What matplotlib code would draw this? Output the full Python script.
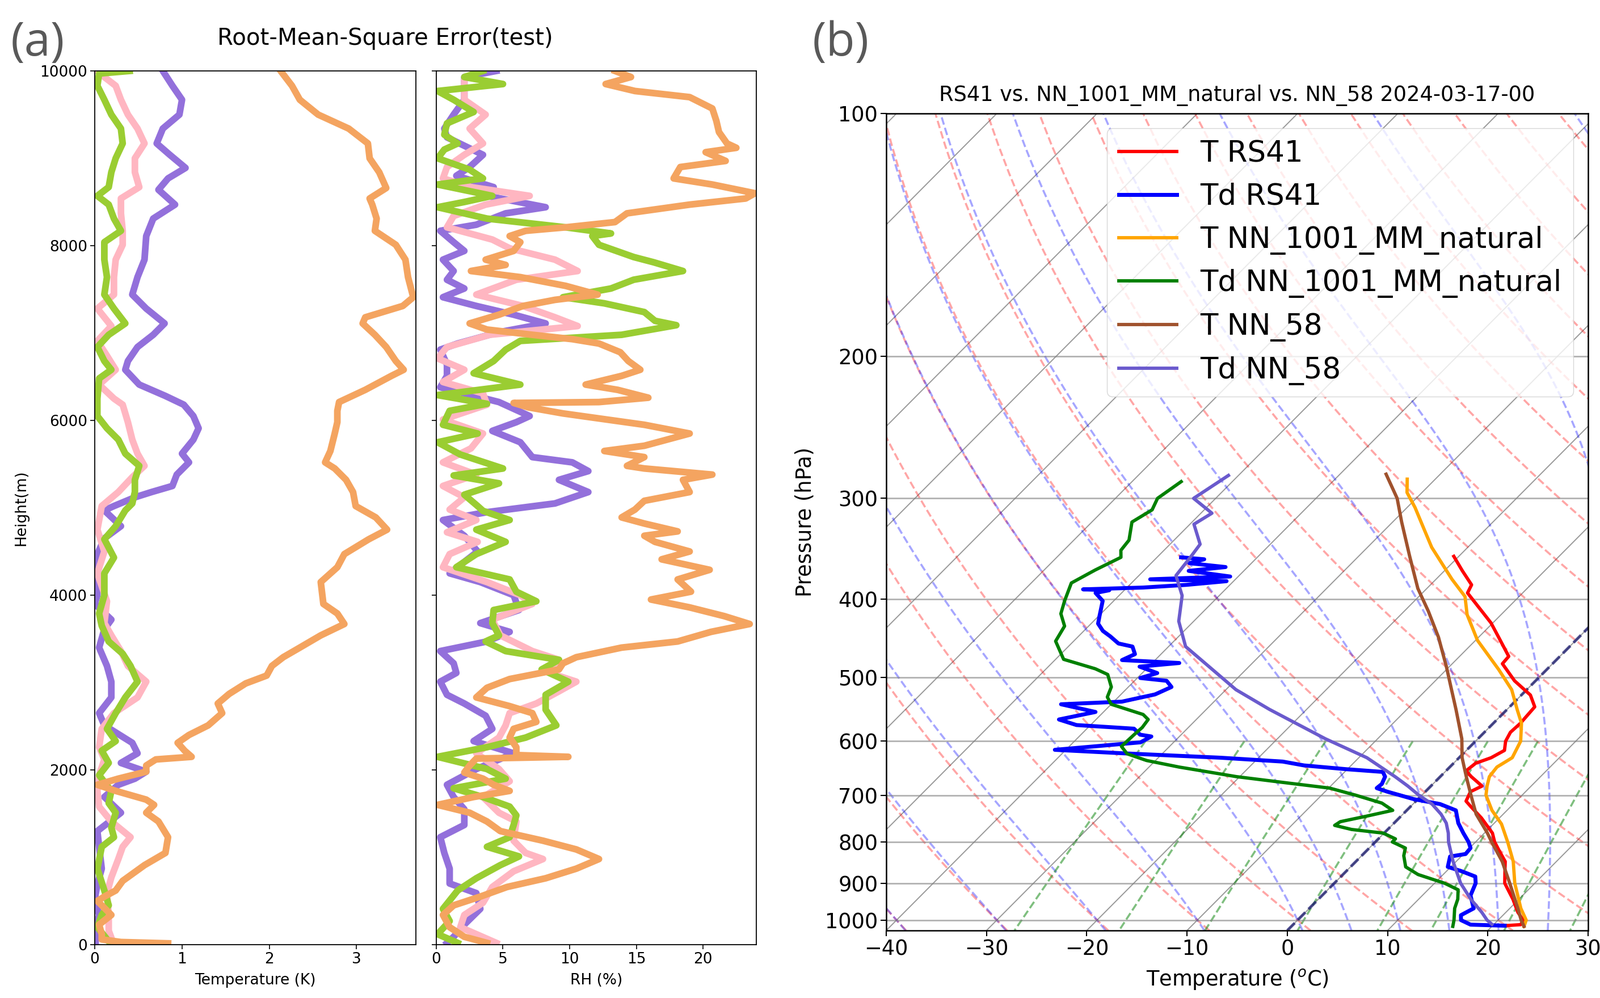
import numpy as np
import matplotlib
matplotlib.use('Agg')
import matplotlib.pyplot as plt
from matplotlib.ticker import FixedLocator, FixedFormatter, NullLocator

# ---------------- (a) RMSE profiles: height (m) / value ----------------
t_purple_h = [10000, 9830, 9670, 9500, 9340, 9170, 9040, 8890, 8770, 8640, 8470, 8310, 8110, 7840, 7640, 7440,
              7280, 7110, 6980, 6840, 6680, 6580, 6410, 6280, 6180, 6050, 5910, 5780, 5620, 5520, 5380, 5250,
              5180, 5120, 5020, 4970, 4790, 4650, 4470, 4250, 4000, 3900, 3720, 3610, 3400, 3190, 3010, 2830,
              2650, 2510, 2310, 2190, 2080, 1980, 1900, 1830, 1690, 1510, 1300, 1120, 870, 690, 520, 340, 160, 0]
t_purple = [0.78, 0.89, 1.00, 0.97, 0.78, 0.71, 0.86, 1.04, 0.84, 0.73, 0.92, 0.67, 0.59, 0.57, 0.49, 0.43,
            0.59, 0.80, 0.67, 0.49, 0.38, 0.35, 0.51, 0.81, 1.02, 1.13, 1.19, 1.13, 1.00, 1.08, 0.94, 0.89,
            0.65, 0.46, 0.22, 0.11, 0.30, 0.11, 0.03, 0.03, 0.03, 0.00, 0.19, 0.11, 0.05, 0.14, 0.19, 0.19,
            0.05, 0.11, 0.43, 0.49, 0.30, 0.59, 0.46, 0.27, 0.11, 0.30, 0.03, 0.05, 0.08, 0.03, 0.00, 0.05, 0.01, 0.01]

t_pink_h = [10000, 9930, 9830, 9670, 9500, 9340, 9170, 9000, 8840, 8670, 8540, 8370, 8170, 8010, 7840, 7640,
            7440, 7280, 7180, 7080, 6910, 6740, 6580, 6410, 6250, 6180, 5980, 5780, 5620, 5480, 5350, 5180,
            5020, 4750, 4500, 4250, 3930, 3680, 3540, 3360, 3190, 3010, 2830, 2650, 2470, 2260, 2120, 1940,
            1760, 1580, 1410, 1230, 1120, 980, 770, 590, 340, 160, 0]
t_pink = [0.03, 0.11, 0.24, 0.30, 0.38, 0.49, 0.57, 0.46, 0.46, 0.51, 0.30, 0.30, 0.32, 0.32, 0.24, 0.22,
          0.22, 0.03, 0.11, 0.19, 0.03, 0.14, 0.24, 0.05, 0.22, 0.32, 0.38, 0.43, 0.49, 0.57, 0.43, 0.27,
          0.08, 0.03, 0.11, 0.03, 0.14, 0.11, 0.19, 0.30, 0.38, 0.59, 0.49, 0.22, 0.08, 0.05, 0.11, 0.05,
          0.03, 0.05, 0.19, 0.41, 0.32, 0.27, 0.19, 0.14, 0.16, 0.16, 0.22]

t_green_h = [10000, 9970, 9830, 9670, 9500, 9340, 9170, 9000, 8840, 8670, 8570, 8470, 8310, 8170, 8040, 7840,
             7640, 7440, 7280, 7110, 6980, 6840, 6680, 6580, 6480, 6250, 6050, 5910, 5780, 5620, 5480, 5320,
             5180, 5050, 4970, 4790, 4640, 4430, 4250, 4000, 3790, 3650, 3470, 3330, 3190, 3010, 2830, 2650,
             2470, 2330, 2220, 2080, 1940, 1760, 1620, 1510, 1340, 1230, 1120, 870, 620, 450, 340, 200, 0]
t_green = [0.40, 0.05, 0.03, 0.11, 0.19, 0.30, 0.32, 0.24, 0.19, 0.16, 0.03, 0.16, 0.22, 0.30, 0.11, 0.11,
           0.14, 0.11, 0.22, 0.35, 0.16, 0.03, 0.11, 0.19, 0.05, 0.03, 0.03, 0.14, 0.27, 0.35, 0.51, 0.46,
           0.46, 0.43, 0.35, 0.24, 0.11, 0.22, 0.11, 0.11, 0.05, 0.08, 0.16, 0.32, 0.41, 0.49, 0.35, 0.24,
           0.14, 0.24, 0.08, 0.16, 0.05, 0.19, 0.16, 0.24, 0.19, 0.22, 0.08, 0.03, 0.11, 0.16, 0.08, 0.03, 0.19]

t_orange_h = [10000, 9830, 9670, 9500, 9340, 9170, 9000, 8840, 8660, 8540, 8470, 8310, 8170, 8010, 7840, 7640,
              7410, 7310, 7180, 7110, 6980, 6840, 6680, 6580, 6510, 6350, 6210, 6110, 5980, 5850, 5650, 5520,
              5450, 5320, 5180, 5020, 4890, 4750, 4640, 4470, 4320, 4150, 3900, 3790, 3670, 3540, 3400, 3290,
              3190, 3080, 2990, 2870, 2760, 2650, 2510, 2400, 2310, 2220, 2150, 2120, 2050, 1980, 1900, 1830,
              1760, 1660, 1600, 1510, 1410, 1230, 1050, 910, 730, 620, 550, 500, 340, 230, 120, 60, 30, 15]
t_orange = [2.13, 2.26, 2.35, 2.56, 2.91, 3.13, 3.15, 3.26, 3.34, 3.15, 3.18, 3.23, 3.21, 3.45, 3.56, 3.59,
            3.65, 3.53, 3.10, 3.07, 3.21, 3.34, 3.45, 3.54, 3.40, 3.10, 2.80, 2.78, 2.78, 2.75, 2.70, 2.64,
            2.75, 2.88, 2.96, 2.99, 3.22, 3.35, 3.14, 2.86, 2.78, 2.59, 2.62, 2.78, 2.86, 2.59, 2.35, 2.16,
            2.03, 1.97, 1.73, 1.54, 1.41, 1.46, 1.30, 1.08, 0.95, 1.03, 1.11, 0.70, 0.59, 0.59, 0.27, 0.03,
            0.24, 0.59, 0.68, 0.59, 0.73, 0.84, 0.81, 0.57, 0.32, 0.24, 0.11, 0.03, 0.19, 0.05, 0.08, 0.08, 0.30, 0.84]

rh_purple_h = [10000, 9930, 9670, 9500, 9340, 9240, 9040, 8900, 8800, 8670, 8570, 8440, 8370, 8240, 8170, 8040,
               7940, 7840, 7710, 7610, 7510, 7410, 7310, 7210, 7110, 7010, 6880, 6810, 6640, 6510, 6380, 6210,
               6050, 5980, 5880, 5750, 5580, 5520, 5420, 5320, 5180, 5050, 4950, 4860, 4680, 4500, 4250, 4150,
               4000, 3830, 3680, 3580, 3470, 3360, 3220, 3110, 3010, 2860, 2760, 2620, 2470, 2330, 2190, 2010,
               1830, 1690, 1550, 1370, 1230, 1050, 870, 700, 590, 410, 230, 90, 20]
rh_purple = [4.5, 2.1, 2.1, 1.3, 0.6, 0.8, 3.5, 2.5, 1.5, 4.3, 3.8, 8.2, 5.2, 3.0, 0.3, 1.3,
             2.1, 0.5, 1.3, 0.8, 2.1, 0.5, 3.0, 5.8, 8.2, 4.7, 1.6, 0.3, 0.8, 0.8, 0.3, 4.7,
             7.0, 6.0, 4.2, 6.3, 7.2, 10.2, 11.4, 9.2, 11.4, 8.9, 3.8, 0.5, 2.1, 3.1, 1.0, 3.3,
             5.8, 6.2, 3.3, 5.5, 3.8, 0.3, 1.3, 1.5, 0.3, 0.8, 2.1, 3.7, 4.2, 2.8, 5.8, 3.0,
             0.8, 1.3, 2.1, 2.1, 0.3, 0.6, 1.0, 1.0, 3.0, 3.3, 2.1, 1.3, 0.8]

rh_pink_h = [10000, 9900, 9670, 9500, 9340, 9170, 9040, 8900, 8770, 8670, 8570, 8470, 8340, 8210, 8070, 7970,
             7840, 7710, 7610, 7440, 7310, 7180, 7080, 6980, 6840, 6710, 6580, 6440, 6310, 6180, 6010, 5850,
             5680, 5520, 5380, 5250, 5120, 4980, 4860, 4720, 4610, 4470, 4320, 4150, 4000, 3900, 3720, 3540,
             3360, 3260, 3110, 3010, 2900, 2760, 2650, 2510, 2370, 2190, 2010, 1870, 1690, 1510, 1410, 1190,
             1050, 980, 840, 660, 480, 340, 200, 20]
rh_pink = [3.0, 2.1, 2.1, 3.7, 2.5, 3.5, 2.1, 0.8, 0.5, 2.6, 7.0, 3.7, 1.3, 0.8, 4.2, 5.5,
           8.9, 10.6, 6.0, 3.0, 6.5, 8.9, 10.6, 4.0, 0.8, 0.1, 2.1, 0.5, 3.5, 3.8, 0.5, 3.5,
           2.6, 0.5, 3.0, 0.5, 2.1, 1.0, 3.0, 0.8, 3.1, 1.0, 0.5, 3.8, 6.3, 7.2, 4.2, 4.8,
           7.2, 9.2, 8.5, 10.5, 9.2, 7.5, 5.5, 5.2, 4.7, 3.0, 4.7, 5.5, 3.5, 4.7, 6.0, 5.8,
           6.7, 8.0, 5.8, 4.2, 3.5, 2.1, 1.8, 4.5]

rh_green_h = [10000, 9930, 9850, 9770, 9670, 9530, 9400, 9270, 9170, 9100, 9000, 8870, 8770, 8700, 8570, 8500,
              8440, 8310, 8210, 8140, 8110, 8010, 7870, 7810, 7710, 7610, 7510, 7410, 7340, 7240, 7140, 7090,
              6980, 6910, 6810, 6680, 6540, 6410, 6290, 6190, 6110, 5950, 5850, 5750, 5610, 5450, 5370, 5280,
              5150, 5020, 4965, 4860, 4750, 4610, 4470, 4320, 4180, 4040, 3930, 3830, 3680, 3540, 3470, 3360,
              3260, 3150, 3010, 2860, 2690, 2510, 2370, 2260, 2150, 2010, 1900, 1790, 1690, 1580, 1480, 1370,
              1230, 1120, 1010, 910, 760, 620, 410, 270, 120, 20]
rh_green = [3.5, 2.1, 5.0, 0.1, 1.3, 2.8, 0.8, 0.6, 1.6, 0.6, 0.1, 2.5, 3.5, 0.1, 4.2, 2.1,
            0.1, 3.8, 9.7, 13.1, 11.7, 12.2, 14.8, 16.3, 18.5, 14.8, 13.1, 9.5, 12.6, 15.6, 16.4, 18.0,
            13.9, 6.3, 5.2, 4.3, 2.8, 6.3, 0.1, 3.8, 1.0, 0.5, 3.1, 0.1, 1.8, 5.0, 1.3, 4.7,
            2.1, 3.1, 3.5, 5.5, 3.0, 5.2, 3.0, 1.5, 5.5, 6.0, 7.5, 4.3, 4.2, 4.7, 3.7, 5.2,
            9.2, 7.9, 9.9, 8.2, 8.2, 9.0, 6.7, 3.8, 0.1, 3.8, 5.2, 1.3, 3.5, 5.5, 6.0, 5.8,
            5.5, 3.8, 6.2, 4.8, 3.0, 1.6, 0.5, 1.0, 0.1, 1.6]

rh_orange_h = [10000, 9930, 9850, 9770, 9700, 9570, 9430, 9300, 9170, 9120, 9070, 8970, 8900, 8770, 8700, 8600,
               8540, 8470, 8370, 8270, 8210, 8170, 8110, 8040, 7940, 7840, 7780, 7710, 7640, 7540, 7440, 7380,
               7310, 7210, 7110, 7040, 6980, 6930, 6880, 6780, 6680, 6580, 6510, 6410, 6350, 6260, 6210, 6200,
               6150, 6080, 5950, 5850, 5710, 5650, 5580, 5480, 5450, 5380, 5320, 5180, 5080, 4980, 4890, 4820,
               4730, 4680, 4610, 4500, 4410, 4290, 4180, 4040, 3950, 3860, 3760, 3670, 3580, 3470, 3400, 3290,
               3220, 3150, 3040, 2940, 2830, 2730, 2650, 2550, 2470, 2370, 2260, 2170, 2150, 2130, 2050, 1970,
               1900, 1830, 1760, 1690, 1600, 1510, 1410, 1300, 1190, 1090, 980, 870, 760, 660, 550, 450,
               340, 200, 90, 20]
rh_orange = [13.4, 14.6, 12.7, 14.9, 19.0, 20.7, 21.0, 21.2, 21.8, 22.5, 20.2, 21.7, 18.3, 17.8, 20.7, 23.9,
             23.2, 19.0, 14.3, 13.4, 9.7, 6.7, 5.5, 6.3, 5.8, 3.7, 5.2, 2.6, 6.3, 9.7, 12.1, 8.9,
             6.5, 4.7, 2.5, 3.8, 7.2, 10.2, 12.2, 13.8, 14.4, 15.3, 13.9, 11.2, 13.6, 15.9, 12.2, 5.8,
             6.9, 9.5, 15.6, 19.0, 15.6, 12.6, 15.6, 14.3, 15.6, 20.7, 18.5, 19.0, 15.6, 14.9, 13.9, 15.6,
             18.1, 15.6, 16.4, 19.0, 16.9, 20.5, 18.1, 19.1, 16.1, 19.0, 21.6, 23.5, 20.6, 18.1, 13.9, 10.5,
             9.5, 9.2, 5.5, 3.8, 3.0, 5.5, 7.2, 7.5, 5.8, 5.5, 6.0, 6.0, 9.9, 3.0, 2.5, 2.1,
             3.5, 4.3, 5.5, 2.8, 0.1, 2.5, 3.8, 4.8, 8.0, 10.5, 12.2, 10.5, 8.2, 5.3, 3.3, 1.3,
             0.5, 1.0, 2.1, 3.8]

# ---------------- (b) sounding: pressure (hPa) / temperature (degC) ----------------
t_rs41_p = [354, 369, 384, 393, 428, 446, 471, 481, 505, 526, 544, 570, 585, 600, 616, 629, 639, 653, 664,
            682, 693, 712, 723, 747, 780, 800, 823, 846, 869, 900, 942, 978, 1000, 1013, 1016]
t_rs41 = [-20.5, -18.2, -15.9, -15.5, -10.2, -8.0, -5.1, -5.0, -2.1, 0.9, 2.5, 2.7, 2.6, 3.0, 3.8, 3.2, 2.2, 2.0,
          3.1, 5.1, 4.5, 5.0, 6.0, 8.2, 10.8, 11.9, 13.4, 14.9, 15.8, 17.0, 19.4, 21.2, 22.5, 22.7, 21.2]

td_rs41_p = [355, 357, 361, 365, 369, 375, 378, 380, 384, 387, 389, 390, 393, 402, 420, 429, 438, 445, 454, 458,
             468, 476, 480, 485, 494, 501, 505, 514, 525, 536, 540, 552, 564, 573, 579, 589, 592, 602, 615, 621,
             629, 636, 643, 650, 655, 664, 678, 686, 693, 708, 718, 731, 758, 780, 800, 814, 828, 834, 859, 869,
             883, 900, 932, 967, 986, 1000, 1013, 1016]
td_rs41 = [-47.6, -45.1, -46.2, -42.2, -45.5, -40.8, -48.5, -40.7, -44.3, -48.4, -54.2, -51.5, -52.6, -51.1, -49.9,
           -49.3, -48.1, -46.8, -45.3, -43.6, -42.6, -43.3, -37.3, -40.9, -38.5, -39.7, -36.8, -35.7, -36.6, -39.2,
           -45.0, -40.8, -43.7, -41.4, -35.3, -34.1, -32.8, -33.3, -41.1, -34.1, -23.8, -17.2, -14.7, -10.1, -6.2,
           -5.5, -5.1, -5.2, -3.8, -0.4, 2.7, 4.9, 6.4, 7.9, 9.3, 10.1, 10.2, 8.9, 9.7, 11.4, 13.4, 14.1, 14.8,
           16.4, 15.8, 16.3, 17.7, 21.2]

t_nn1001_p = [284, 295, 308, 326, 345, 378, 397, 418, 450, 489, 518, 548, 570, 600, 629, 646, 664, 682, 700,
              731, 760, 800, 846, 900, 967, 1000, 1018]
t_nn1001 = [-32.8, -31.5, -29.2, -26.4, -23.6, -18.4, -15.4, -13.4, -9.8, -4.8, -1.5, 1.0, 2.8, 4.5, 5.3, 4.7,
            4.9, 5.6, 6.4, 8.5, 10.8, 13.2, 15.7, 18.0, 21.1, 22.8, 23.2]

td_nn1001_p = [286, 300, 310, 321, 338, 348, 355, 368, 382, 402, 417, 432, 451, 475, 488, 496, 514, 529, 540,
               556, 564, 577, 589, 609, 622, 634, 646, 664, 675, 686, 700, 716, 731, 743, 755, 763, 772, 780,
               793, 800, 814, 832, 859, 878, 900, 917, 942, 967, 1000, 1018]
td_nn1001 = [-55.1, -55.8, -55.2, -56.0, -54.5, -54.3, -53.6, -54.9, -56.0, -54.9, -54.0, -52.4, -51.8, -49.2,
             -45.1, -43.3, -41.7, -41.1, -40.0, -35.8, -34.8, -34.6, -34.7, -34.8, -33.5, -30.9, -27.0, -20.3,
             -15.1, -9.9, -6.6, -3.2, -1.4, -3.4, -5.5, -5.7, -3.6, -0.1, 1.7, 1.7, 3.6, 4.2, 5.5, 7.5, 11.0,
             13.0, 13.9, 14.5, 15.6, 16.1]

t_nn58_p = [280, 300, 321, 354, 388, 414, 446, 485, 518, 548, 596, 629, 664, 700, 739, 780, 800, 846, 900, 967,
            1000, 1018]
t_nn58 = [-35.4, -31.9, -29.1, -24.9, -20.9, -17.6, -14.0, -10.3, -7.5, -5.1, -1.6, 0.3, 2.6, 4.9, 7.3, 10.3,
          11.6, 14.6, 17.5, 20.8, 22.3, 23.2]

td_nn58_p = [281, 300, 313, 323, 342, 354, 374, 396, 426, 458, 518, 548, 596, 629, 664, 682, 700, 718, 739, 758,
             780, 800, 846, 900, 942, 978, 1000, 1012]
td_nn58 = [-51.0, -52.2, -48.9, -49.6, -47.0, -46.7, -46.3, -43.7, -41.5, -38.3, -29.0, -23.7, -15.2, -9.2, -4.5,
           -2.3, -0.3, 1.9, 3.8, 5.2, 6.4, 7.3, 9.7, 12.6, 15.2, 17.6, 18.9, 19.8]

# background thermodynamic lines (start temperatures at 1000 hPa, degC / mixing ratio kg/kg)
dry_t0 = np.arange(-40, 231, 10)
moist_t0 = np.concatenate((np.arange(-40, 0, 10), np.arange(0, 51, 5)))
mix_w = [0.0004, 0.001, 0.002, 0.004, 0.007, 0.01, 0.016, 0.024, 0.032]

P_BOT, P_TOP = 1030., 100.
SKEW = 80.0  # degC of shift per decade of pressure


def skx(t, p):
    return np.asarray(t) + SKEW * np.log10(P_BOT / np.asarray(p, float))


def moist_lapse(t0c, pres):
    Rd, Cp, Lv, eps = 287.04749, 1004.6662, 2.50084e6, 0.6219569

    def f(tk, p):
        es = 6.112 * np.exp(17.67 * (tk - 273.15) / (tk - 29.65))
        rs = eps * es / (p - es)
        return (Rd * tk + Lv * rs) / (Cp + Lv * Lv * rs * eps / (Rd * tk * tk)) / p

    tk = np.asarray(t0c, float) + 273.15
    out = [tk.copy()]
    for i in range(len(pres) - 1):
        p, h = pres[i], pres[i + 1] - pres[i]
        k1 = f(tk, p)
        k2 = f(tk + h * k1 / 2, p + h / 2)
        k3 = f(tk + h * k2 / 2, p + h / 2)
        k4 = f(tk + h * k3, p + h)
        tk = tk + h * (k1 + 2 * k2 + 2 * k3 + k4) / 6
        out.append(tk.copy())
    return np.array(out) - 273.15


W, H = 2820., 1759.
fig = plt.figure(figsize=(28.2, 17.59), dpi=100)

# ---------------- panel (a) ----------------
ax_t = fig.add_axes([167 / W, 1 - 1665 / H, 566 / W, 1540 / H])
ax_rh = fig.add_axes([769 / W, 1 - 1665 / H, 564 / W, 1540 / H], sharey=ax_t)

cols = ['#9370DB', '#FFB6C1', '#9ACD32', '#F4A460']
lw_a = 8.5
ax_t.plot(t_purple, t_purple_h, color=cols[0], lw=lw_a)
ax_t.plot(t_pink, t_pink_h, color=cols[1], lw=lw_a)
ax_t.plot(t_green, t_green_h, color=cols[2], lw=lw_a)
ax_t.plot(t_orange, t_orange_h, color=cols[3], lw=lw_a)
ax_rh.plot(rh_purple, rh_purple_h, color=cols[0], lw=lw_a)
ax_rh.plot(rh_pink, rh_pink_h, color=cols[1], lw=lw_a)
ax_rh.plot(rh_green, rh_green_h, color=cols[2], lw=lw_a)
ax_rh.plot(rh_orange, rh_orange_h, color=cols[3], lw=lw_a)

ax_t.set_xlim(0, 3.68)
ax_rh.set_xlim(0, 24)
ax_t.set_ylim(0, 10000)
ax_t.set_xticks([0, 1, 2, 3])
ax_rh.set_xticks([0, 5, 10, 15, 20])
ax_t.set_yticks(range(0, 10001, 2000))
ax_rh.tick_params(labelleft=False)
for a in (ax_t, ax_rh):
    a.tick_params(labelsize=19, length=6, width=1.2)
    for s in a.spines.values():
        s.set_linewidth(1.3)
ax_t.set_xlabel('Temperature (K)', fontsize=19, labelpad=8)
ax_rh.set_xlabel('RH (%)', fontsize=19, labelpad=8)
ax_t.set_ylabel('Height(m)', fontsize=19, labelpad=14)
fig.text(679 / W, 1 - 68 / H, 'Root-Mean-Square Error(test)', fontsize=29, ha='center', va='center')

# ---------------- panel (b) skew-T ----------------
ax = fig.add_axes([1562 / W, 1 - 1640 / H, 1237 / W, 1440 / H])
ax.set_yscale('log')
ax.set_ylim(P_BOT, P_TOP)
ax.set_xlim(-40, 30)

pl = np.linspace(P_BOT, P_TOP, 100)
# isotherms
for t in range(-170, 40, 10):
    ax.plot(skx(t, pl), pl, color='gray', lw=1.4, alpha=0.8, zorder=1)
# dry adiabats
for t0 in dry_t0:
    tt = (t0 + 273.15) * (pl / 1000.) ** 0.2857 - 273.15
    ax.plot(skx(tt, pl), pl, color='r', ls='--', lw=2.6, alpha=0.35, zorder=1)
# moist adiabats
p_up = np.linspace(1000., P_TOP, 181)
p_dn = np.linspace(1000., P_BOT, 7)
tm = np.vstack((moist_lapse(moist_t0, p_dn)[::-1], moist_lapse(moist_t0, p_up)[1:]))
pm = np.concatenate((p_dn[::-1], p_up[1:]))
for j in range(len(moist_t0)):
    ax.plot(skx(tm[:, j], pm), pm, color='b', ls='--', lw=2.6, alpha=0.35, zorder=1)
# mixing ratio lines
pw = np.linspace(600., P_BOT, 50)
for w in mix_w:
    e = pw * w / (0.6219569 + w)
    v = np.log(e / 6.112)
    td = 243.5 * v / (17.67 - v)
    ax.plot(skx(td, pw), pw, color='g', ls='--', lw=2.6, alpha=0.5, zorder=1)
# 0 degC isotherm
ax.plot(skx(0, pl), pl, color='#1a1a70', ls='--', lw=3.6, alpha=0.75, zorder=2)

lw_b = 4.2
ax.plot(skx(t_rs41, t_rs41_p), t_rs41_p, color='red', lw=lw_b, label='T RS41', zorder=3)
ax.plot(skx(td_rs41, td_rs41_p), td_rs41_p, color='blue', lw=5, label='Td RS41', zorder=3)
ax.plot(skx(t_nn1001, t_nn1001_p), t_nn1001_p, color='orange', lw=lw_b, label='T NN_1001_MM_natural', zorder=3)
ax.plot(skx(td_nn1001, td_nn1001_p), td_nn1001_p, color='green', lw=lw_b, label='Td NN_1001_MM_natural', zorder=3)
ax.plot(skx(t_nn58, t_nn58_p), t_nn58_p, color='sienna', lw=lw_b, label='T NN_58', zorder=3)
ax.plot(skx(td_nn58, td_nn58_p), td_nn58_p, color='slateblue', lw=lw_b, label='Td NN_58', zorder=3)

ax.yaxis.set_major_locator(FixedLocator(range(100, 1001, 100)))
ax.yaxis.set_major_formatter(FixedFormatter([str(v) for v in range(100, 1001, 100)]))
ax.yaxis.set_minor_locator(NullLocator())
ax.set_xticks(range(-40, 31, 10))
ax.yaxis.grid(True, color='gray', lw=2, alpha=0.6)
ax.tick_params(labelsize=26.5, length=7, width=1.5)
for s in ax.spines.values():
    s.set_linewidth(1.8)
ax.set_ylabel('Pressure (hPa)', fontsize=26.5, labelpad=12)
ax.set_xlabel('Temperature ($^o$C)', fontsize=26.5, labelpad=10)
ax.set_title('RS41 vs. NN_1001_MM_natural vs. NN_58 2024-03-17-00', fontsize=26.5, pad=16)
leg = ax.legend(loc='upper right', fontsize=37, labelspacing=0.5, framealpha=0.8)
leg.set_zorder(5)

fig.text(66 / W, 1 - 77 / H, '(a)', fontsize=60, family='Open Sans', color='#595959', ha='center', va='center')
fig.text(1482 / W, 1 - 77 / H, '(b)', fontsize=60, family='Open Sans', color='#595959', ha='center', va='center')

fig.savefig('out.png', dpi=100)
